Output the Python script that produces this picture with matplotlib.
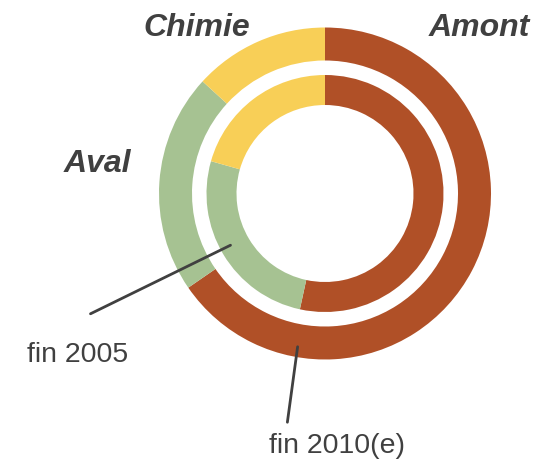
import matplotlib.pyplot as plt

# catégories et parts (%)
categories = ['Amont', 'Aval', 'Chimie']
fin_2010 = [65.4, 21.4, 13.2]
fin_2005 = [53.4, 26.0, 20.6]
colors = ['#B05027', '#A6C292', '#F8CF57']

plt.rcParams['font.family'] = ['Liberation Sans', 'DejaVu Sans']
txt_color = '#404040'

fig = plt.figure(figsize=(5.48, 4.59), dpi=100)
ax = fig.add_axes([0, 0, 1, 1])

# centre du graphe en pixels (origine en bas à gauche)
cx, cy = 325, 265.5

# anneau extérieur : fin 2010(e)
ax.pie(fin_2010, colors=colors, startangle=90, counterclock=False,
       center=(cx, cy), radius=166,
       wedgeprops=dict(width=33, linewidth=0))
# anneau intérieur : fin 2005
ax.pie(fin_2005, colors=colors, startangle=90, counterclock=False,
       center=(cx, cy), radius=118.5,
       wedgeprops=dict(width=30, linewidth=0))

ax.set_xlim(0, 548)
ax.set_ylim(0, 459)
ax.set_aspect('auto')
ax.axis('off')

# noms des catégories
cat_pos = {'Amont': (479, 431), 'Aval': (97, 295), 'Chimie': (197, 431)}
for name in categories:
    x, y = cat_pos[name]
    ax.text(x, y, name, ha='center', va='center', fontsize=23,
            fontweight='bold', fontstyle='italic', color=txt_color)

# étiquettes des anneaux avec traits de rappel
ax.annotate('', xy=(233, 215), xytext=(88, 144),
            arrowprops=dict(arrowstyle='-', color=txt_color, lw=2))
ax.text(78, 104, 'fin 2005', ha='center', va='center', fontsize=20.5,
        color=txt_color)

ax.annotate('', xy=(298, 115), xytext=(287, 34),
            arrowprops=dict(arrowstyle='-', color=txt_color, lw=2))
ax.text(337, 13, 'fin 2010(e)', ha='center', va='center', fontsize=20.5,
        color=txt_color)

fig.savefig('out.png', dpi=100)
